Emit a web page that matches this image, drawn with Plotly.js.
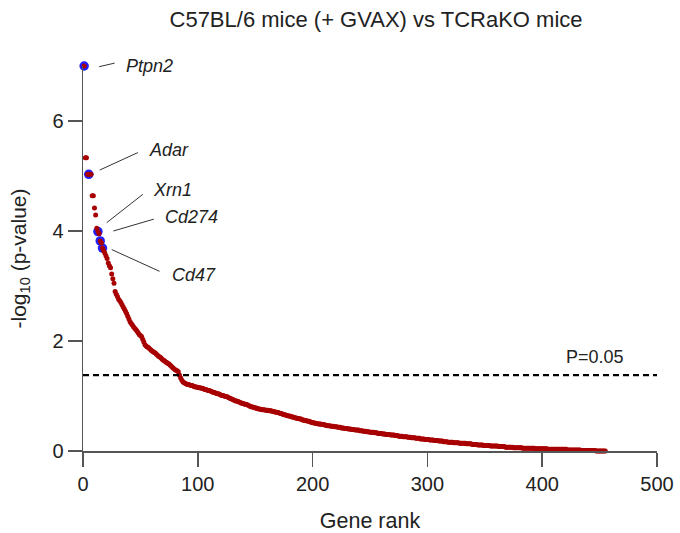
<!DOCTYPE html>
<html>
<head>
<meta charset="utf-8">
<script src="https://cdn.plot.ly/plotly-3.0.1.min.js"></script>
<style>html,body{margin:0;padding:0;background:#fff;}#chart{width:680px;height:533px;}</style>
</head>
<body>
<div id="chart"></div>
<script>
// -log10(p-value) for every gene, in rank order (rank = position + 1)
var logP = [
7.00,5.33,5.33,5.03,5.03,5.03,5.03,4.64,4.64,4.42,
4.29,4.05,3.99,3.95,3.82,3.78,3.69,3.64,3.60,3.55,
3.50,3.42,3.37,3.33,3.22,3.13,3.05,2.90,2.85,2.81,
2.76,2.73,2.70,2.66,2.62,2.58,2.54,2.50,2.45,2.40,
2.35,2.32,2.29,2.26,2.23,2.21,2.18,2.15,2.12,2.10,
2.08,2.03,1.98,1.93,1.91,1.89,1.88,1.86,1.84,1.82,
1.81,1.79,1.78,1.76,1.74,1.72,1.71,1.69,1.67,1.65,
1.64,1.62,1.61,1.59,1.58,1.56,1.54,1.52,1.50,1.48,
1.47,1.46,1.44,1.38,1.33,1.29,1.26,1.24,1.23,1.22,
1.21,1.21,1.20,1.19,1.19,1.18,1.17,1.17,1.16,1.16,
1.15,1.15,1.14,1.14,1.13,1.12,1.12,1.11,1.10,1.10,
1.09,1.08,1.07,1.07,1.06,1.05,1.04,1.04,1.03,1.02,
1.01,1.01,1.00,0.99,0.99,0.98,0.97,0.96,0.95,0.94,
0.93,0.92,0.91,0.91,0.90,0.89,0.88,0.87,0.87,0.86,
0.85,0.85,0.84,0.83,0.82,0.81,0.80,0.80,0.79,0.78,
0.78,0.77,0.77,0.76,0.76,0.75,0.75,0.75,0.74,0.74,
0.74,0.73,0.73,0.73,0.72,0.72,0.71,0.71,0.70,0.70,
0.69,0.68,0.68,0.67,0.66,0.66,0.65,0.64,0.64,0.63,
0.63,0.62,0.62,0.61,0.60,0.60,0.59,0.59,0.58,0.58,
0.57,0.56,0.56,0.55,0.55,0.54,0.54,0.53,0.52,0.52,
0.51,0.51,0.50,0.50,0.49,0.49,0.49,0.48,0.48,0.48,
0.47,0.47,0.46,0.46,0.46,0.45,0.45,0.45,0.44,0.44,
0.44,0.43,0.43,0.43,0.42,0.42,0.42,0.41,0.41,0.41,
0.40,0.40,0.40,0.39,0.39,0.39,0.38,0.38,0.38,0.38,
0.37,0.37,0.37,0.36,0.36,0.36,0.35,0.35,0.35,0.34,
0.34,0.34,0.34,0.33,0.33,0.33,0.32,0.32,0.32,0.32,
0.31,0.31,0.31,0.30,0.30,0.30,0.30,0.29,0.29,0.29,
0.29,0.28,0.28,0.28,0.27,0.27,0.27,0.27,0.26,0.26,
0.26,0.26,0.25,0.25,0.25,0.24,0.24,0.24,0.24,0.23,
0.23,0.23,0.23,0.22,0.22,0.22,0.22,0.21,0.21,0.21,
0.21,0.20,0.20,0.20,0.20,0.19,0.19,0.19,0.19,0.18,
0.18,0.18,0.18,0.17,0.17,0.17,0.17,0.16,0.16,0.16,
0.16,0.16,0.15,0.15,0.15,0.15,0.15,0.14,0.14,0.14,
0.14,0.14,0.14,0.13,0.13,0.13,0.13,0.13,0.12,0.12,
0.12,0.12,0.12,0.11,0.11,0.11,0.11,0.11,0.10,0.10,
0.10,0.10,0.10,0.10,0.09,0.09,0.09,0.09,0.09,0.09,
0.09,0.08,0.08,0.08,0.08,0.08,0.08,0.07,0.07,0.07,
0.07,0.07,0.07,0.07,0.06,0.06,0.06,0.06,0.06,0.06,
0.06,0.06,0.05,0.05,0.05,0.05,0.05,0.05,0.05,0.05,
0.05,0.05,0.05,0.04,0.04,0.04,0.04,0.04,0.04,0.04,
0.04,0.04,0.04,0.04,0.03,0.03,0.03,0.03,0.03,0.03,
0.03,0.03,0.03,0.03,0.03,0.03,0.03,0.03,0.03,0.03,
0.03,0.02,0.02,0.02,0.02,0.02,0.02,0.02,0.02,0.02,
0.02,0.02,0.02,0.01,0.01,0.01,0.01,0.01,0.01,0.01,
0.01,0.01,0.01,0.01,0.01,0.01,0.00,0.00,0.00,0.00,
0.00,0.00,0.00,0.00,0.00
];
var ranks = logP.map(function (v, i) { return i + 1; });

// highlighted genes
var geneNames = ['Ptpn2', 'Adar', 'Xrn1', 'Cd274', 'Cd47'];
var geneRanks = [1, 5, 13, 15, 17];
var geneLogP  = [7.00, 5.03, 3.99, 3.82, 3.69];

// significance threshold as drawn
var thresholdLabel = 'P=0.05';
var thresholdY = 1.38;

var xTicks = [0, 100, 200, 300, 400, 500];
var yTicks = [0, 2, 4, 6];

// label layout: pixel offsets from each gene point (screen coords, y down)
// line: [near-end dx, near-end dy, far-end dx, far-end dy]; text: [dx, dy]
var labelStyle = [
  {line: [15, 0.7, 31, -3],        text: [40, 0]},
  {line: [11, -4.3, 49.6, -22],    text: [58, -24]},
  {line: [8.8, -8.9, 45.4, -37.6], text: [53, -41.5]},
  {line: [13.1, -9.9, 54.1, -21.9],text: [63, -24]},
  {line: [9.2, 1.5, 57.5, 23.5],   text: [67, 27]}
];

var FONT = '"Liberation Sans", Arial, sans-serif';
var AX = '#555555';
var TXT = '#222222';

var traces = [
  {
    x: geneRanks, y: geneLogP, type: 'scatter', mode: 'markers',
    marker: {color: '#1f1fff', size: 9.5},
    cliponaxis: false, hoverinfo: 'x+y', showlegend: false
  },
  {
    x: ranks, y: logP, type: 'scatter', mode: 'markers',
    marker: {color: '#a80000', size: 5},
    cliponaxis: false, hoverinfo: 'x+y', showlegend: false
  }
];

var shapes = [{
  type: 'line', xref: 'x', yref: 'y', x0: 0, x1: 500, y0: thresholdY, y1: thresholdY,
  line: {color: '#000', width: 2.3, dash: '6px,4px'}
}];
var annotations = [{
  text: thresholdLabel, xref: 'x', yref: 'y', x: 500, y: thresholdY,
  xanchor: 'right', yanchor: 'bottom', xshift: -31, yshift: 6, showarrow: false,
  font: {family: FONT, size: 18, color: TXT}
}];
geneNames.forEach(function (g, i) {
  var s = labelStyle[i];
  // leader line: head at the near end, tail at the far end
  annotations.push({
    text: ' ', xref: 'x', yref: 'y', x: geneRanks[i], y: geneLogP[i],
    xshift: s.line[0], yshift: -s.line[1],
    showarrow: true, arrowhead: 0, arrowwidth: 1, arrowcolor: '#333',
    axref: 'pixel', ayref: 'pixel',
    ax: s.line[2] - s.line[0], ay: s.line[3] - s.line[1],
    standoff: 0, startstandoff: 0, borderpad: 0,
    font: {family: FONT, size: 1, color: 'rgba(0,0,0,0)'}
  });
  annotations.push({
    text: '<i>' + g + '</i>', xref: 'x', yref: 'y', x: geneRanks[i], y: geneLogP[i],
    xanchor: 'left', yanchor: 'middle', xshift: s.text[0], yshift: -s.text[1],
    showarrow: false, font: {family: FONT, size: 18, color: TXT}
  });
});

var layout = {
  width: 680, height: 533,
  margin: {l: 83, r: 23, t: 66, b: 82},
  paper_bgcolor: '#fff', plot_bgcolor: '#fff',
  font: {family: FONT, color: TXT},
  title: {text: 'C57BL/6 mice (+ GVAX) vs TCRaKO mice', x: 0.553, xanchor: 'center',
          y: 0.964, yanchor: 'middle', font: {family: FONT, size: 22, color: TXT}},
  xaxis: {
    range: [0, 500], tickvals: xTicks, ticktext: xTicks.map(String),
    showgrid: false, zeroline: false, showline: true, linecolor: AX, linewidth: 1.5,
    ticks: 'outside', ticklen: 14, tickwidth: 1.5, tickcolor: AX,
    tickfont: {family: FONT, size: 20, color: TXT},
    title: {text: 'Gene rank', font: {family: FONT, size: 21.5, color: TXT}, standoff: 19}
  },
  yaxis: {
    range: [0, 7], tickvals: yTicks, ticktext: yTicks.map(String),
    showgrid: false, zeroline: false, showline: true, linecolor: AX, linewidth: 1.5,
    ticks: 'outside', ticklen: 14, tickwidth: 1.5, tickcolor: AX,
    tickfont: {family: FONT, size: 20, color: TXT},
    title: {text: '-log<sub>10</sub> (p-value)', font: {family: FONT, size: 21, color: TXT}, standoff: 20}
  },
  shapes: shapes,
  annotations: annotations
};

Plotly.newPlot('chart', traces, layout, {displayModeBar: false, staticPlot: true});
</script>
</body>
</html>
